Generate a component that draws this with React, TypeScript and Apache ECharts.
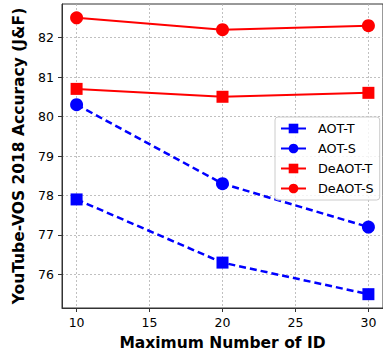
import React, { useEffect, useRef } from "react";
import * as echarts from "echarts";

const xValues = [10, 20, 30];
const aotT = [77.9, 76.3, 75.5];
const aotS = [80.3, 78.3, 77.2];
const deaotT = [80.7, 80.5, 80.6];
const deaotS = [82.5, 82.2, 82.3];
const xTicks = [10, 15, 20, 25, 30];
const yTicks = [76, 77, 78, 79, 80, 81, 82];

const FONT = "DejaVu Sans";

export default function App() {
  const ref = useRef<HTMLDivElement>(null);
  useEffect(() => {
    const chart = echarts.init(ref.current!, null, { renderer: "svg" });
    const pair = (ys: number[]) => xValues.map((x, i) => [x, ys[i]]);
    const mk = (name: string, ys: number[], color: string, symbol: string, dashed: boolean) => ({
      name,
      type: "line",
      data: pair(ys),
      symbol,
      symbolSize: symbol === "rect" ? 12 : 13,
      clip: false,
      itemStyle: { color },
      lineStyle: { color, width: dashed ? 2.5 : 2, type: dashed ? [7, 4] : "solid" },
    });
    chart.setOption({
      animation: false,
      textStyle: { fontFamily: FONT },
      grid: { left: 62, top: 4, width: 323.5, bottom: 44, show: true, borderColor: "#333", borderWidth: 1 },
      xAxis: {
        type: "value",
        min: 9,
        max: 31,
        name: "Maximum Number of ID",
        nameLocation: "middle",
        nameGap: 27,
        nameTextStyle: { fontFamily: FONT, fontWeight: "bold", fontSize: 15.5, color: "#000" },
        axisLine: { show: true, onZero: false, lineStyle: { color: "#333" } },
        axisTick: { show: true, length: 4, customValues: xTicks, lineStyle: { color: "#333" } },
        axisLabel: { customValues: xTicks, fontFamily: FONT, fontSize: 12.5, color: "#000", margin: 8 },
        splitLine: { show: true, lineStyle: { color: "#b0b0b0", width: 0.8, type: [2, 2] } },
      },
      yAxis: {
        type: "value",
        min: 75.15,
        max: 82.85,
        name: "YouTube-VOS 2018 Accuracy (J&F)",
        nameLocation: "middle",
        nameGap: 31,
        nameTextStyle: { fontFamily: FONT, fontWeight: "bold", fontSize: 15.5, color: "#000" },
        axisLine: { show: true, onZero: false, lineStyle: { color: "#333" } },
        axisTick: { show: true, length: 4, customValues: yTicks, lineStyle: { color: "#333" } },
        axisLabel: { customValues: yTicks, fontFamily: FONT, fontSize: 12.5, color: "#000", margin: 8 },
        splitLine: { show: true, lineStyle: { color: "#b0b0b0", width: 0.8, type: [2, 2] } },
      },
      legend: {
        left: 275,
        top: 117,
        orient: "vertical",
        itemWidth: 25,
        itemHeight: 12,
        itemGap: 7,
        padding: [5, 6, 5, 5],
        borderColor: "#ccc",
        borderWidth: 1,
        borderRadius: 3,
        backgroundColor: "rgba(255,255,255,0.8)",
        lineStyle: { type: "solid" },
        textStyle: { fontFamily: FONT, fontSize: 12.8, color: "#000", padding: [0, 0, 0, 7] },
        data: ["AOT-T", "AOT-S", "DeAOT-T", "DeAOT-S"],
      },
      series: [
        mk("AOT-T", aotT, "#0000ff", "rect", true),
        mk("AOT-S", aotS, "#0000ff", "circle", true),
        mk("DeAOT-T", deaotT, "#ff0000", "rect", false),
        mk("DeAOT-S", deaotS, "#ff0000", "circle", false),
      ],
    });
    return () => chart.dispose();
  }, []);
  return <div ref={ref} style={{ width: 383, height: 356, position: "absolute", left: 0, top: 0 }} />;
}
